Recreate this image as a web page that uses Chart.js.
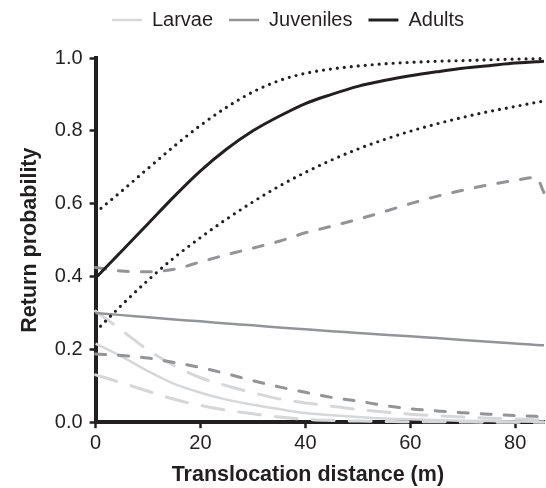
<!DOCTYPE html>
<html>
<head>
<meta charset="utf-8">
<script src="https://cdn.jsdelivr.net/npm/chart.js@4.4.1/dist/chart.umd.min.js"></script>
<style>
  html, body { margin: 0; padding: 0; background: #fff; }
  #wrap { width: 546px; height: 488px; }
</style>
</head>
<body>
<div id="wrap"><canvas id="chart"></canvas></div>
<script>
"use strict";

// translocation distance (m)
const distance = [0, 5, 10, 15, 20, 25, 30, 35, 40, 45, 50, 55, 60, 65, 70, 75, 80, 84, 85.5];

// fitted return probability + confidence bounds
const adults      = [0.396, 0.47, 0.545, 0.62, 0.69, 0.75, 0.80, 0.84, 0.875, 0.90, 0.922, 0.938, 0.951, 0.962, 0.972, 0.979, 0.986, 0.990, 0.991];
const adultsHi    = [0.575, 0.635, 0.697, 0.758, 0.815, 0.865, 0.907, 0.938, 0.958, 0.970, 0.978, 0.984, 0.988, 0.991, 0.993, 0.995, 0.997, 0.998, 0.999];
const adultsLo    = [0.25, 0.322, 0.39, 0.452, 0.507, 0.558, 0.605, 0.648, 0.686, 0.72, 0.75, 0.776, 0.799, 0.819, 0.837, 0.853, 0.867, 0.878, 0.882];

const juveniles   = [0.30, 0.294, 0.288, 0.282, 0.277, 0.271, 0.266, 0.26, 0.255, 0.25, 0.245, 0.24, 0.236, 0.231, 0.226, 0.221, 0.216, 0.212, 0.211];
const juvenilesHi = [0.425, 0.415, 0.413, 0.42, 0.44, 0.46, 0.478, 0.497, 0.52, 0.538, 0.557, 0.578, 0.60, 0.62, 0.637, 0.652, 0.664, 0.672, 0.63];
const juvenilesLo = [0.187, 0.183, 0.176, 0.164, 0.15, 0.133, 0.114, 0.097, 0.082, 0.068, 0.058, 0.046, 0.037, 0.031, 0.026, 0.022, 0.018, 0.016, 0.015];

const larvae      = [0.216, 0.18, 0.14, 0.105, 0.081, 0.062, 0.048, 0.036, 0.025, 0.019, 0.014, 0.010, 0.008, 0.006, 0.004, 0.003, 0.002, 0.0015, 0.0015];
const larvaeHi    = [0.305, 0.252, 0.198, 0.155, 0.122, 0.10, 0.081, 0.064, 0.053, 0.044, 0.035, 0.028, 0.022, 0.018, 0.014, 0.011, 0.009, 0.007, 0.006];
const larvaeLo    = [0.13, 0.108, 0.085, 0.063, 0.046, 0.033, 0.023, 0.014, 0.008, 0.005, 0.003, 0.002, 0.001, 0.001, 0.0005, 0, 0, 0, 0];

const groupNames = ['Larvae', 'Juveniles', 'Adults'];
const xTicks = [0, 20, 40, 60, 80];
const yTicks = ['0.0', '0.2', '0.4', '0.6', '0.8', '1.0'];

const INK = '#231f20';
const JUV = '#929497';
const LAR = '#d6d7d9';

const pts = (ys) => distance.map((x, i) => ({ x: x, y: ys[i] }));

const line = (label, ys, color, width, dash, order) => ({
  label: label,
  data: pts(ys),
  borderColor: color,
  backgroundColor: color,
  borderWidth: width,
  borderDash: dash,
  borderCapStyle: dash.length ? 'round' : 'butt',
  pointRadius: 0,
  cubicInterpolationMode: 'monotone',
  clip: false,
  order: order
});

// nudge the legend to where the original sits
const legendNudge = {
  id: 'legendNudge',
  afterLayout(chart) {
    const lg = chart.legend;
    lg.left += 13; lg.right += 13;
    lg.top -= 18; lg.bottom -= 18;
  }
};

Chart.defaults.font.family = "'Liberation Sans', Arial, sans-serif";
Chart.defaults.color = INK;

new Chart(document.getElementById('chart'), {
  type: 'line',
  data: {
    datasets: [
      line(groupNames[0], larvae, LAR, 2.5, [], 2),
      line(groupNames[1], juveniles, JUV, 2.5, [], 1),
      line(groupNames[2], adults, INK, 3, [], 0),
      line('Larvae upper', larvaeHi, LAR, 3, [22, 15], 2),
      line('Larvae lower', larvaeLo, LAR, 3, [22, 15], 2),
      line('Juveniles upper', juvenilesHi, JUV, 3, [10, 13], 1),
      line('Juveniles lower', juvenilesLo, JUV, 3, [10, 13], 1),
      line('Adults upper', adultsHi, INK, 3.2, [0, 7], 0),
      line('Adults lower', adultsLo, INK, 3.2, [0, 7], 0)
    ]
  },
  options: {
    responsive: true,
    maintainAspectRatio: false,
    animation: false,
    layout: { padding: { top: 12, left: 6, right: 2, bottom: 0 } },
    scales: {
      x: {
        type: 'linear',
        min: 0,
        max: 85.5,
        afterBuildTicks: (axis) => { axis.ticks = xTicks.map(v => ({ value: v })); },
        ticks: { font: { size: 20 }, padding: 3, color: INK },
        grid: { drawOnChartArea: false, drawTicks: true, tickLength: 6, tickWidth: 2.5, tickColor: INK },
        border: { display: true, color: INK, width: 4 },
        title: {
          display: true,
          // trailing spaces pull the centred title a little left, as in the original
          text: 'Translocation distance (m)\u00a0\u00a0\u00a0\u00a0',
          font: { size: 21.5, weight: 'bold' },
          padding: { top: 4, bottom: 0 },
          color: INK
        }
      },
      y: {
        min: 0,
        max: 1,
        afterBuildTicks: (axis) => { axis.ticks = yTicks.map(t => ({ value: parseFloat(t) })); },
        ticks: {
          font: { size: 20 },
          padding: 7,
          color: INK,
          callback: (v) => yTicks[Math.round(v * 5)]
        },
        grid: { drawOnChartArea: false, drawTicks: true, tickLength: 6, tickWidth: 2.5, tickColor: INK },
        border: { display: true, color: INK, width: 4 },
        title: {
          display: true,
          text: 'Return probability',
          font: { size: 21.5, weight: 'bold' },
          padding: { top: 11, bottom: 5 },
          color: INK
        }
      }
    },
    plugins: {
      legend: {
        position: 'top',
        labels: {
          font: { size: 20 },
          color: INK,
          usePointStyle: true,
          pointStyle: 'line',
          pointStyleWidth: 30,
          padding: 16,
          filter: (item) => item.datasetIndex < 3,
          sort: (a, b) => a.datasetIndex - b.datasetIndex
        }
      },
      tooltip: { enabled: false }
    }
  },
  plugins: [legendNudge]
});
</script>
</body>
</html>
